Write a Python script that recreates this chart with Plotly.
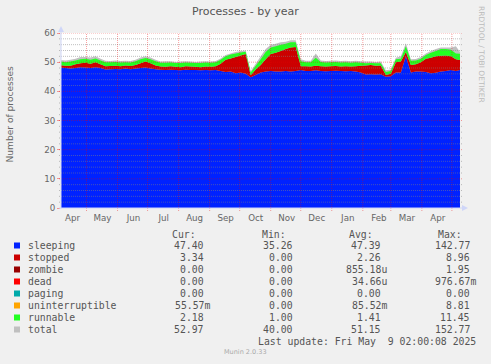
import plotly.graph_objects as go
import pandas as pd

# ---------------- data ----------------
dates = pd.date_range("2024-04-05", periods=81, freq="5D")

sleeping = [48.1, 48.0, 47.8, 48.0, 48.3, 48.2, 48.0, 48.3, 48.0, 47.5,
            47.6, 47.7, 47.6, 47.8, 47.6, 47.8, 48.0, 48.2, 47.8, 47.6,
            47.4, 47.3, 47.4, 47.3, 47.2, 47.4, 47.3, 47.3, 47.2, 47.3,
            47.2, 47.3, 47.0, 46.6, 46.8, 46.2, 46.5, 46.0, 44.8, 45.6,
            46.5, 46.8, 47.0, 46.8, 46.8, 47.0, 46.8, 47.0, 47.3, 47.0,
            47.0, 47.2, 47.0, 46.9, 47.0, 47.1, 47.0, 46.9, 47.0, 46.8,
            46.5, 45.8, 45.9, 45.8, 45.9, 45.0, 45.2, 46.5, 46.5, 52.0,
            46.5, 46.8, 46.8, 46.6, 46.2, 46.4, 46.8, 47.0, 47.3, 47.0, 47.4]

stopped = [0.9, 0.8, 1.0, 1.3, 1.3, 1.6, 1.5, 1.7, 1.3, 1.1,
           1.1, 1.1, 1.0, 1.1, 1.1, 1.2, 1.6, 2.0, 1.8, 1.3,
           1.1, 1.1, 1.2, 1.1, 1.1, 1.2, 1.2, 1.1, 1.1, 1.2,
           1.2, 1.3, 2.5, 4.2, 4.5, 5.6, 5.8, 6.8, 0.7, 1.9,
           2.5, 4.2, 5.8, 6.4, 7.0, 7.5, 8.2, 8.2, 1.3, 1.6,
           1.5, 1.6, 1.6, 1.6, 1.6, 1.6, 1.5, 1.7, 1.5, 1.8,
           2.3, 3.1, 3.1, 3.0, 3.0, 0.6, 0.8, 3.5, 3.7, 1.5,
           2.5, 2.5, 3.2, 4.6, 5.3, 5.6, 5.4, 5.3, 4.7, 4.0, 3.3]

runnable = [1.3, 1.2, 1.4, 1.3, 1.4, 1.4, 1.3, 1.3, 1.3, 1.4,
            1.3, 1.3, 1.3, 1.1, 1.2, 1.3, 1.4, 1.2, 1.4, 1.4,
            1.3, 1.4, 1.3, 1.3, 1.4, 1.3, 1.3, 1.3, 1.4, 1.4,
            1.4, 1.4, 1.3, 1.2, 1.3, 1.2, 1.0, 0.8, 1.0, 1.3,
            2.0, 2.5, 2.2, 2.3, 2.2, 1.8, 1.8, 1.6, 1.7, 1.4,
            1.5, 2.7, 1.5, 1.4, 1.4, 1.4, 1.4, 1.4, 1.3, 1.4,
            1.0, 0.7, 0.7, 0.8, 0.7, 1.0, 1.0, 1.0, 1.0, 2.0,
            1.5, 1.3, 1.2, 1.3, 1.7, 1.8, 2.3, 2.2, 2.3, 2.0, 2.2]

total = [50.8, 50.6, 50.8, 51.2, 51.8, 51.8, 51.6, 52.0, 51.2, 50.5,
         50.4, 50.6, 50.4, 50.5, 50.4, 50.8, 51.6, 52.0, 51.6, 50.8,
         50.2, 50.3, 50.3, 50.1, 50.2, 50.3, 50.2, 50.1, 50.2, 50.3,
         50.2, 50.4, 51.3, 52.5, 53.0, 53.5, 53.8, 54.0, 47.0, 49.5,
         52.0, 54.5, 56.0, 56.3, 56.8, 57.0, 57.5, 57.5, 51.0, 50.5,
         50.5, 53.0, 50.6, 50.4, 50.5, 50.6, 50.4, 50.5, 50.3, 50.5,
         50.3, 50.2, 50.2, 50.1, 50.2, 47.2, 47.5, 51.5, 52.0, 56.5,
         51.0, 51.1, 51.8, 53.0, 53.8, 54.5, 55.0, 55.0, 55.0, 55.5, 53.0]

month_labels = ["Apr", "May", "Jun", "Jul", "Aug", "Sep", "Oct",
                "Nov", "Dec", "Jan", "Feb", "Mar", "Apr"]
y_ticks = [0, 10, 20, 30, 40, 50, 60]

legend_names = ["sleeping", "stopped", "zombie", "dead", "paging",
                "uninterruptible", "runnable", "total"]
legend_colors = ["#0022FF", "#CC0000", "#990000", "#FF0000", "#00AAAA",
                 "#FFA500", "#22FF22", "#C0C0C0"]
cur_vals = ["47.40", "3.34", "0.00", "0.00", "0.00", "55.57m", "2.18", "52.97"]
min_vals = ["35.26", "0.00", "0.00", "0.00", "0.00", "0.00", "1.00", "40.00"]
avg_vals = ["47.39", "2.26", "855.18u", "34.66u", "0.00", "85.52m", "1.41", "51.15"]
max_vals = ["142.77", "8.96", "1.95", "976.67m", "0.00", "8.81", "11.45", "152.77"]

# ---------------- layout geometry ----------------
W, H = 491, 364
L, T, PW, PH = 61, 33, 399, 175
FONT = "DejaVu Sans"
MONO = "DejaVu Sans Mono"
TXT = "#666666"


def px(x):
    return (x - L) / PW


def py(y):
    return (T + PH - y) / PH


fig = go.Figure()

# total drawn first as a grey area (shows as the grey fringe above the stack)
fig.add_trace(go.Scatter(x=dates, y=total, mode="none", fill="tozeroy",
                         fillcolor="#C0C0C0", name="total", hoverinfo="skip"))
fig.add_trace(go.Scatter(x=dates, y=sleeping, mode="none", stackgroup="s",
                         fillcolor="#0022FF", name="sleeping"))
fig.add_trace(go.Scatter(x=dates, y=stopped, mode="none", stackgroup="s",
                         fillcolor="#CC0000", name="stopped"))
fig.add_trace(go.Scatter(x=dates, y=runnable, mode="none", stackgroup="s",
                         fillcolor="#22FF22", name="runnable"))

month_starts = pd.date_range("2024-05-01", "2025-05-01", freq="MS")
month_mid = pd.date_range("2024-04-01", "2025-04-01", freq="MS") + pd.Timedelta(days=16)

shapes = []
MAJ = "rgba(235,0,0,0.38)"
MIN = "rgba(130,130,130,0.5)"
# horizontal grid (drawn on top of data, as rrdtool does)
for v in range(2, 61, 2):
    shapes.append(dict(type="line", xref="paper", yref="y",
                       x0=px(59), x1=px(463), y0=v, y1=v, layer="above",
                       line=dict(color=MAJ if v % 10 == 0 else MIN,
                                 width=1, dash="1px,1px")))
for d in month_starts:
    shapes.append(dict(type="line", xref="x", yref="paper",
                       x0=d, x1=d, y0=py(211), y1=1, layer="above",
                       line=dict(color=MAJ, width=1, dash="1px,1px")))
AX = "#CFD6F8"
shapes.append(dict(type="line", xref="paper", yref="paper", x0=px(61), x1=px(61),
                   y0=py(209), y1=py(29), line=dict(color=AX, width=1), layer="above"))
shapes.append(dict(type="line", xref="paper", yref="paper", x0=px(59), x1=px(463),
                   y0=py(208), y1=py(208), line=dict(color=AX, width=1), layer="above"))
shapes.append(dict(type="path", xref="paper", yref="paper",
                   path=f"M {px(58)},{py(32)} L {px(64)},{py(32)} L {px(61)},{py(26)} Z",
                   fillcolor=AX, line=dict(width=0), layer="above"))
shapes.append(dict(type="path", xref="paper", yref="paper",
                   path=f"M {px(462)},{py(205)} L {px(462)},{py(211)} L {px(468)},{py(208)} Z",
                   fillcolor=AX, line=dict(width=0), layer="above"))

ann = []
ann.append(dict(text="Processes - by year", x=px(245.5), y=py(12), xref="paper", yref="paper",
                showarrow=False, xanchor="center", yanchor="middle",
                font=dict(family=FONT, size=11, color="#555555")))
ann.append(dict(text="Number of processes", x=px(9), y=py(114.5), xref="paper", yref="paper",
                showarrow=False, textangle=-90, xanchor="center", yanchor="middle",
                font=dict(family=FONT, size=9.1, color=TXT)))
ann.append(dict(text="RRDTOOL / TOBI OETIKER", x=px(482), y=py(54), xref="paper", yref="paper",
                showarrow=False, textangle=90, xanchor="center", yanchor="middle",
                font=dict(family=FONT, size=7.5, color="#BBBBBB")))

CW = 5.9
col_edges = [205, 294, 382.3, 471]
head_edges = [197.3, 286.7, 374.3, 463.3]
for hdr, e in zip(["Cur:", "Min:", "Avg:", "Max:"], head_edges):
    ann.append(dict(text=hdr, x=px(e), y=py(234), xref="paper", yref="paper",
                    showarrow=False, xanchor="right", yanchor="middle", borderpad=0,
                    font=dict(family=MONO, size=9.8, color="#555555")))

for k, name in enumerate(legend_names):
    yc = 245.7 + 12 * k
    shapes.append(dict(type="rect", xref="paper", yref="paper",
                       x0=px(14), x1=px(20), y0=py(yc - 3.2), y1=py(yc + 2.8),
                       fillcolor=legend_colors[k], line=dict(width=0)))
    ann.append(dict(text=name, x=px(26.7), y=py(yc), xref="paper", yref="paper",
                    showarrow=False, xanchor="left", yanchor="middle", borderpad=0,
                    font=dict(family=MONO, size=9.8, color="#555555")))
    for vals, e in zip([cur_vals, min_vals, avg_vals, max_vals], col_edges):
        s = vals[k]
        edge = e + (CW if s[-1].isalpha() else 0)
        ann.append(dict(text=s, x=px(edge), y=py(yc), xref="paper", yref="paper",
                        showarrow=False, xanchor="right", yanchor="middle", borderpad=0,
                        font=dict(family=MONO, size=9.8, color="#555555")))

ann.append(dict(text="Last update: Fri May\u00a0\u00a09 02:00:08 2025", x=px(477.3), y=py(341.7),
                xref="paper", yref="paper", showarrow=False, xanchor="right", yanchor="middle",
                borderpad=0, font=dict(family=MONO, size=9.8, color="#555555")))
ann.append(dict(text="Munin 2.0.33", x=px(245), y=py(352.3), xref="paper", yref="paper",
                showarrow=False, xanchor="center", yanchor="middle",
                font=dict(family=FONT, size=6.5, color="#AAAAAA")))

fig.update_layout(
    width=W, height=H, autosize=False,
    margin=dict(l=L, r=W - L - PW, t=T, b=H - T - PH, pad=0),
    paper_bgcolor="#F0F0F0", plot_bgcolor="#FFFFFF",
    showlegend=False, shapes=shapes, annotations=ann,
    xaxis=dict(type="date", range=["2024-04-05 12:00", "2025-05-09 02:00"],
               tickvals=list(month_mid), ticktext=month_labels, showgrid=False,
               zeroline=False, showline=False, ticks="outside", ticklen=2,
               tickcolor="rgba(0,0,0,0)",
               tickfont=dict(family=FONT, size=8.7, color=TXT)),
    yaxis=dict(range=[0, 60], tickvals=y_ticks, showgrid=False, zeroline=False,
               showline=False, ticks="outside", ticklen=3, tickcolor=MAJ,
               tickfont=dict(family=FONT, size=8.7, color=TXT)),
)

fig.write_html("out.html", config={"displayModeBar": False},
               post_script="document.body.style.margin='0';document.body.style.background='#F0F0F0';")
